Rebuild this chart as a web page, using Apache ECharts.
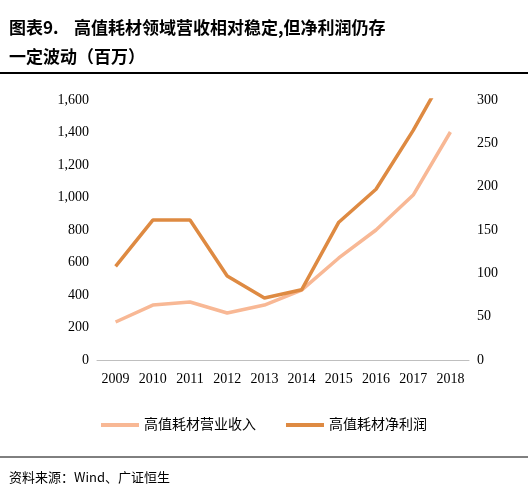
<!DOCTYPE html>
<html>
<head>
<meta charset="utf-8">
<script src="https://cdn.jsdelivr.net/npm/echarts@6/dist/echarts.min.js"></script>
<style>
html,body{margin:0;padding:0;background:#fff;}
#main{width:528px;height:495px;}
</style>
</head>
<body>
<div id="main"></div>
<script>
var years = ['2009','2010','2011','2012','2013','2014','2015','2016','2017','2018'];
var revenue = [234, 338, 357, 289, 338, 430, 628, 800, 1015, 1403];
var profit = [108, 161.5, 161.5, 97, 71.5, 81, 159, 197, 265, 341];

var chart = echarts.init(document.getElementById('main'));
var serif = '"Liberation Serif", "Noto Sans CJK SC", serif';
var option = {
    animation: false,
    title: [{
        text: '图表9.    高值耗材领域营收相对稳定,但净利润仍存\n一定波动（百万）',
        left: 4, top: 8,
        textStyle: {fontFamily: '"Noto Sans CJK SC"', fontWeight: 'bold', fontSize: 17, lineHeight: 29, color: '#000'}
    }, {
        text: '资料来源：Wind、广证恒生',
        left: 4, top: 466,
        textStyle: {fontFamily: '"Noto Sans CJK SC"', fontWeight: 'normal', fontSize: 13, color: '#000'}
    }],
    graphic: [
        {type: 'line', shape: {x1: 0, y1: 73, x2: 528, y2: 73}, style: {stroke: '#000', lineWidth: 2}},
        {type: 'line', shape: {x1: 0, y1: 457, x2: 528, y2: 457}, style: {stroke: '#000', lineWidth: 1}}
    ],
    legend: {
        bottom: 58, itemGap: 30, itemWidth: 38, itemHeight: 4,
        icon: 'rect',
        textStyle: {fontFamily: serif, fontSize: 14, color: '#000'},
        data: ['高值耗材营业收入', '高值耗材净利润']
    },
    grid: {left: 97, right: 59, top: 100, bottom: 135},
    xAxis: {
        type: 'category', data: years, boundaryGap: true,
        axisLine: {lineStyle: {color: '#bfbfbf'}},
        axisTick: {show: false},
        axisLabel: {color: '#000', fontFamily: serif, fontSize: 14, interval: 0, margin: 12}
    },
    yAxis: [{
        type: 'value', min: 0, max: 1600, interval: 200,
        axisLine: {show: false}, axisTick: {show: false}, splitLine: {show: false},
        axisLabel: {color: '#000', fontFamily: serif, fontSize: 14,
            formatter: function (v) { return v.toLocaleString('en-US'); }}
    }, {
        type: 'value', min: 0, max: 300, interval: 50,
        axisLine: {show: false}, axisTick: {show: false}, splitLine: {show: false},
        axisLabel: {color: '#000', fontFamily: serif, fontSize: 14}
    }],
    series: [{
        name: '高值耗材营业收入', type: 'line', data: revenue, yAxisIndex: 0,
        symbol: 'none', color: '#F8B895', lineStyle: {width: 3.5}
    }, {
        name: '高值耗材净利润', type: 'line', data: profit, yAxisIndex: 1,
        symbol: 'none', color: '#DE8A42', lineStyle: {width: 3.5}, clip: true
    }]
};
chart.setOption(option);
</script>
</body>
</html>
